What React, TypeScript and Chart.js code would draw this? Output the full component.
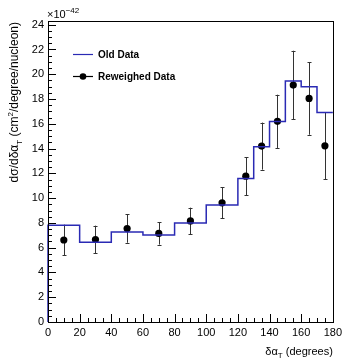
import React, { useEffect, useRef } from "react";
import { Chart, registerables } from "chart.js";
Chart.register(...registerables);

const binEdges = [0, 20, 40, 60, 80, 100, 120, 130, 140, 150, 160, 170, 180];
const oldData = [7.81, 6.44, 7.27, 7.03, 8.0, 9.45, 11.59, 14.14, 16.19, 19.45, 18.99, 16.92];
const pointX = [10, 30, 50, 70, 90, 110, 125, 135, 145, 155, 165, 175];
const reweighed = [6.62, 6.66, 7.54, 7.15, 8.16, 9.62, 11.77, 14.2, 16.2, 19.13, 18.05, 14.22];
const errors = [1.24, 1.12, 1.14, 0.9, 1.07, 1.24, 1.55, 1.9, 2.15, 2.77, 2.93, 2.7];
const xTicks = [0, 20, 40, 60, 80, 100, 120, 140, 160, 180];
const yTicks = [0, 2, 4, 6, 8, 10, 12, 14, 16, 18, 20, 22, 24];
const legendLabels = ["Old Data", "Reweighed Data"];
const yTitle = [
  { t: "dσ/dδα", s: "n" },
  { t: "T", s: "sub" },
  { t: " (cm", s: "n" },
  { t: "2", s: "sup" },
  { t: "/degree/nucleon)", s: "n" },
];
const xTitle = [
  { t: "δα", s: "n" },
  { t: "T", s: "sub" },
  { t: " (degrees)", s: "n" },
];
const exponentBase = "×10";
const exponentPower = "−42";

const FONT = "'Liberation Sans', Arial, Helvetica, sans-serif";
const BLUE = "#2a2ab4";

function drawRich(ctx: CanvasRenderingContext2D, segs: { t: string; s: string }[], size: number, xEnd: number, y: number) {
  const fontFor = (s: string) => `${s === "n" ? size : Math.round(size * 0.7)}px ${FONT}`;
  let total = 0;
  const widths = segs.map((g) => {
    ctx.font = fontFor(g.s);
    const w = ctx.measureText(g.t).width;
    total += w;
    return w;
  });
  let x = xEnd - total;
  segs.forEach((g, i) => {
    ctx.font = fontFor(g.s);
    const dy = g.s === "sub" ? size * 0.3 : g.s === "sup" ? -size * 0.4 : 0;
    ctx.fillText(g.t, x, y + dy);
    x += widths[i];
  });
}

const decorPlugin = {
  id: "decor",
  beforeDatasetDraw(chart: any, args: any) {
    if (args.index !== 1) return;
    const ctx = chart.ctx as CanvasRenderingContext2D;
    const xs = chart.scales.x;
    const ys = chart.scales.y;
    ctx.save();
    ctx.strokeStyle = "#333";
    ctx.lineWidth = 1;
    pointX.forEach((xv, i) => {
      const px = Math.round(xs.getPixelForValue(xv)) + 0.5;
      const top = ys.getPixelForValue(reweighed[i] + errors[i]);
      const bot = ys.getPixelForValue(reweighed[i] - errors[i]);
      ctx.beginPath();
      ctx.moveTo(px, top);
      ctx.lineTo(px, bot);
      ctx.moveTo(px - 2, Math.round(top) + 0.5);
      ctx.lineTo(px + 2, Math.round(top) + 0.5);
      ctx.moveTo(px - 2, Math.round(bot) + 0.5);
      ctx.lineTo(px + 2, Math.round(bot) + 0.5);
      ctx.stroke();
    });
    ctx.restore();
  },
  afterDraw(chart: any) {
    const ctx = chart.ctx as CanvasRenderingContext2D;
    const a = chart.chartArea;
    const xs = chart.scales.x;
    const ys = chart.scales.y;
    ctx.save();
    // frame
    ctx.strokeStyle = "#000";
    ctx.lineWidth = 1;
    ctx.strokeRect(Math.round(a.left) + 0.5, Math.round(a.top) + 0.5, Math.round(a.right - a.left), Math.round(a.bottom - a.top));
    // x ticks
    ctx.beginPath();
    for (let v = 0; v <= 180; v += 5) {
      const px = Math.round(xs.getPixelForValue(v)) + 0.5;
      const len = v % 20 === 0 ? 8 : 4;
      ctx.moveTo(px, a.bottom);
      ctx.lineTo(px, a.bottom - len);
    }
    // y ticks
    for (let v = 0; v <= 24; v += 0.5) {
      const py = Math.round(ys.getPixelForValue(v)) + 0.5;
      const len = Math.abs(v % 2) < 1e-9 ? 8 : 4;
      ctx.moveTo(a.left, py);
      ctx.lineTo(a.left + len, py);
    }
    ctx.stroke();

    ctx.fillStyle = "#000";
    ctx.textBaseline = "alphabetic";
    ctx.textAlign = "left";
    // exponent
    ctx.font = `11px ${FONT}`;
    ctx.fillText(exponentBase, 47, 18);
    const bw = ctx.measureText(exponentBase).width;
    ctx.font = `8px ${FONT}`;
    ctx.fillText(exponentPower, 47 + bw, 12.5);

    // x title
    drawRich(ctx, xTitle, 11, a.right, 355);

    // y title
    ctx.save();
    ctx.translate(18, a.top + 1);
    ctx.rotate(-Math.PI / 2);
    drawRich(ctx, yTitle, 12, 0, 0);
    ctx.restore();

    // legend
    ctx.lineWidth = 1.2;
    ctx.strokeStyle = BLUE;
    ctx.beginPath();
    ctx.moveTo(73, 54.5);
    ctx.lineTo(93, 54.5);
    ctx.stroke();
    ctx.strokeStyle = "#000";
    ctx.beginPath();
    ctx.moveTo(73, 76.5);
    ctx.lineTo(93, 76.5);
    ctx.stroke();
    ctx.beginPath();
    ctx.arc(83, 76.5, 3.3, 0, Math.PI * 2);
    ctx.fill();
    ctx.font = `bold 10px ${FONT}`;
    ctx.textBaseline = "middle";
    ctx.fillText(legendLabels[0], 98, 55);
    ctx.fillText(legendLabels[1], 98, 77);
    ctx.restore();
  },
};

export default function App() {
  const ref = useRef<HTMLCanvasElement>(null);
  useEffect(() => {
    const histPoints = [{ x: 0, y: 0 }]
      .concat(binEdges.slice(0, -1).map((e, i) => ({ x: e, y: oldData[i] })))
      .concat([{ x: 180, y: oldData[oldData.length - 1] }]);
    const chart = new Chart(ref.current!, {
      type: "line",
      data: {
        datasets: [
          {
            type: "line",
            label: legendLabels[0],
            data: histPoints,
            borderColor: BLUE,
            borderWidth: 1.5,
            pointRadius: 0,
            fill: false,
            stepped: true,
            clip: false,
          } as any,
          {
            type: "scatter",
            label: legendLabels[1],
            data: pointX.map((x, i) => ({ x, y: reweighed[i] })),
            backgroundColor: "#000",
            borderColor: "#000",
            pointRadius: 3.6,
            pointBorderWidth: 0,
            showLine: false,
          } as any,
        ],
      },
      options: {
        animation: false,
        responsive: false,
        devicePixelRatio: 1,
        layout: { padding: { top: 21, right: 13, left: 0, bottom: 0 } },
        plugins: { legend: { display: false }, tooltip: { enabled: false } },
        scales: {
          x: {
            type: "linear",
            min: 0,
            max: 180,
            grid: { display: false, drawTicks: false },
            border: { display: false },
            afterBuildTicks: (s: any) => {
              s.ticks = xTicks.map((v) => ({ value: v }));
            },
            afterFit: (s: any) => {
              s.height = 38;
            },
            ticks: {
              maxRotation: 0,
              autoSkip: false,
              padding: 4,
              color: "#000",
              font: { family: FONT, size: 11 },
            },
          },
          y: {
            type: "linear",
            min: 0,
            max: 24.3,
            grid: { display: false, drawTicks: false },
            border: { display: false },
            afterBuildTicks: (s: any) => {
              s.ticks = yTicks.map((v) => ({ value: v }));
            },
            afterFit: (s: any) => {
              s.width = 48;
            },
            ticks: {
              autoSkip: false,
              padding: 4,
              color: "#000",
              font: { family: FONT, size: 11 },
            },
          },
        },
      },
      plugins: [decorPlugin],
    });
    return () => chart.destroy();
  }, []);
  return (
    <div style={{ position: "absolute", left: 0, top: 0, width: 346, height: 360, background: "#fff" }}>
      <canvas ref={ref} width={346} height={360} style={{ display: "block", width: 346, height: 360 }} />
    </div>
  );
}
